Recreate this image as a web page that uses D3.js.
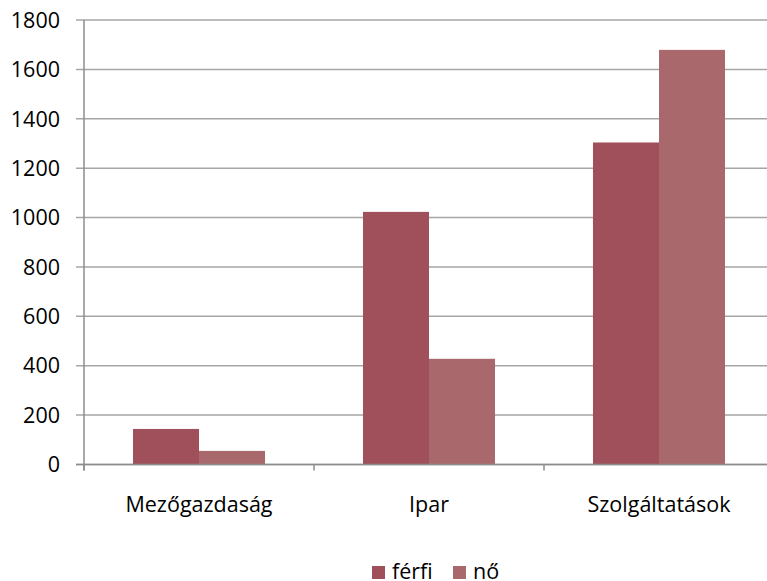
<!DOCTYPE html>
<html><head><meta charset="utf-8">
<script src="https://cdn.jsdelivr.net/npm/d3@7"></script>
<style>body{margin:0;background:#fff;} svg{display:block;font-family:"Open Sans",Lato,sans-serif;}</style>
</head><body>
<svg id="c" width="767" height="581"></svg>
<script>
const categories = ["Mezőgazdaság", "Ipar", "Szolgáltatások"];
const seriesNames = ["férfi", "nő"];
const ferfi = [144, 1023, 1304];
const no = [55, 428, 1679];
const yTicks = [0, 200, 400, 600, 800, 1000, 1200, 1400, 1600, 1800];
const colors = ["#A0505A", "#A9696C"];

(function(){
const svg = d3.select("#c");
const mLeft = 84, mRight = 774, mTop = 20, mBottom = 464.5;
const fs = 21.5;
const x = d3.scaleBand().domain(categories).range([mLeft, mRight]).paddingInner(0).paddingOuter(0);
const y = d3.scaleLinear().domain([0, 1800]).range([mBottom, mTop]);
const xs = d3.scaleBand().domain(seriesNames).range([0, x.bandwidth()]).paddingInner(0).paddingOuter(0.742);

// gridlines
svg.append("g").selectAll("line").data(yTicks).join("line")
  .attr("x1", mLeft - 8).attr("x2", mRight)
  .attr("y1", d => y(d)).attr("y2", d => y(d))
  .attr("stroke", "#A6A6A6").attr("stroke-width", 1.5);

// bars
const data = categories.map((c, i) => ({c, vals: [ferfi[i], no[i]]}));
const g = svg.append("g");
data.forEach(d => {
  seriesNames.forEach((s, j) => {
    g.append("rect")
      .attr("x", x(d.c) + xs(s))
      .attr("y", y(d.vals[j]))
      .attr("width", xs.bandwidth())
      .attr("height", y(0) - y(d.vals[j]))
      .attr("fill", colors[j]);
  });
});

// y axis line
svg.append("line").attr("x1", mLeft).attr("x2", mLeft).attr("y1", mTop).attr("y2", mBottom + 6)
  .attr("stroke", "#8C8C8C").attr("stroke-width", 1.5);
// x axis line
svg.append("line").attr("x1", mLeft - 8).attr("x2", mRight).attr("y1", mBottom).attr("y2", mBottom)
  .attr("stroke", "#8C8C8C").attr("stroke-width", 1.5);
// category ticks
const bounds = [mLeft].concat(categories.map(c => x(c) + x.bandwidth()));
svg.append("g").selectAll("line").data(bounds).join("line")
  .attr("x1", d => d).attr("x2", d => d).attr("y1", mBottom).attr("y2", mBottom + 6)
  .attr("stroke", "#8C8C8C").attr("stroke-width", 1.5);

// y labels
svg.append("g").selectAll("text").data(yTicks).join("text")
  .attr("x", 60).attr("y", d => y(d)).attr("dy", "0.36em")
  .attr("text-anchor", "end").attr("font-size", fs).attr("fill", "#000")
  .text(d => d);

// x labels
svg.append("g").selectAll("text").data(categories).join("text")
  .attr("x", d => x(d) + x.bandwidth() / 2).attr("y", 512)
  .attr("text-anchor", "middle").attr("font-size", fs).attr("fill", "#000")
  .text(d => d);

// legend
const lg = svg.append("g");
const legX = [372, 453];
seriesNames.forEach((s, j) => {
  lg.append("rect").attr("x", legX[j]).attr("y", 566).attr("width", 13).attr("height", 13).attr("fill", colors[j]);
  lg.append("text").attr("x", legX[j] + 20).attr("y", 579).attr("font-size", fs).attr("fill", "#000").text(s);
});
})();
</script>
</body></html>
